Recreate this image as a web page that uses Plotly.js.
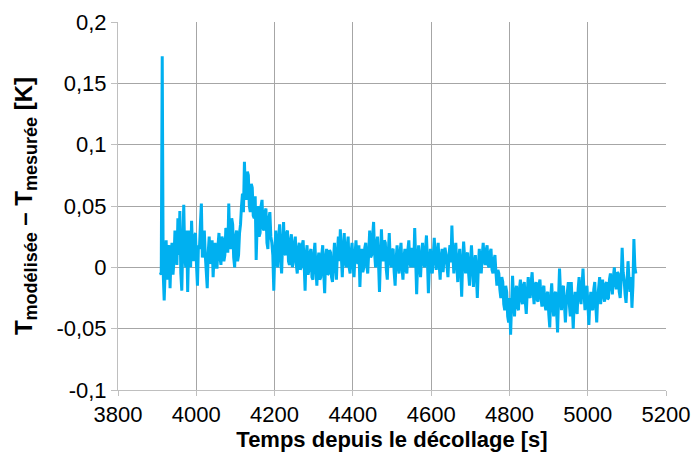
<!DOCTYPE html>
<html>
<head>
<meta charset="utf-8">
<script src="https://cdn.plot.ly/plotly-3.0.1.min.js"></script>
<style>html,body{margin:0;padding:0;background:#fff;}#chart{width:698px;height:462px;}</style>
</head>
<body>
<div id="chart"></div>
<script>
// Time axis of the series: first sample time and sampling step [s]
const startTime = 3908;
const sampleStep = 2.5;

// T_modélisée − T_mesurée [K]
const deltaT = [
  -0.004, -0.006, 0.172, -0.005, -0.027, 0.012, 0.022, -0.010, 0.015, 0.018,
  -0.017, 0.010, 0.020, -0.006, 0.005, 0.030, 0.025, 0.002, 0.040, 0.010,
  0.046, -0.005, -0.019, 0.020, 0.051, 0.010, 0.000, 0.030, -0.020, 0.015,
  0.030, 0.000, 0.038, 0.012, 0.005, 0.025, 0.028, 0.002, -0.015, 0.018,
  0.015, 0.035, 0.052, 0.008, 0.020, 0.030, 0.010, -0.005, -0.017, 0.012,
  0.025, 0.003, 0.005, 0.022, -0.008, 0.010, 0.020, 0.000, 0.000, 0.018,
  0.028, 0.008, 0.002, 0.025, 0.022, 0.005, 0.010, 0.032, 0.030, 0.012,
  0.052, 0.020, 0.015, 0.040, 0.035, 0.008, 0.000, 0.025, 0.030, 0.005,
  0.010, 0.028, 0.035, 0.050, 0.060, 0.045, 0.086, 0.060, 0.055, 0.078,
  0.075, 0.050, 0.045, 0.068, 0.065, 0.042, 0.040, 0.058, 0.006, 0.035,
  0.050, 0.025, 0.028, 0.050, 0.055, 0.032, 0.030, 0.045, 0.048, 0.020,
  0.015, 0.040, 0.045, 0.025, 0.020, 0.010, -0.019, 0.012, 0.030, 0.005,
  0.000, 0.025, 0.035, 0.008, -0.005, 0.020, 0.037, 0.012, 0.010, 0.028,
  0.030, 0.005, 0.002, 0.022, 0.027, 0.000, 0.005, 0.020, 0.025, 0.002,
  -0.005, 0.015, 0.020, -0.002, 0.000, 0.018, 0.022, 0.003, -0.019, 0.010,
  0.018, -0.006, -0.002, 0.012, 0.015, -0.008, -0.010, 0.010, 0.020, 0.000,
  -0.015, 0.005, 0.012, -0.010, -0.008, 0.010, 0.018, -0.004, -0.021, 0.008,
  0.015, -0.006, -0.005, 0.014, 0.012, -0.008, -0.012, 0.006, 0.020, 0.002,
  -0.010, 0.012, 0.025, 0.005, 0.031, 0.010, -0.008, 0.015, 0.028, 0.004,
  0.000, 0.018, 0.025, 0.000, -0.005, 0.012, 0.020, 0.002, -0.008, 0.010,
  0.022, 0.005, 0.003, 0.018, -0.016, 0.006, 0.015, -0.004, 0.000, 0.016,
  0.020, 0.002, -0.005, 0.012, 0.030, 0.008, 0.010, 0.025, 0.037, 0.012,
  0.000, 0.018, 0.025, 0.004, -0.020, 0.008, 0.031, 0.010, 0.005, 0.022,
  0.020, -0.002, -0.010, 0.012, 0.028, 0.006, 0.000, 0.014, 0.015, -0.004,
  -0.015, 0.006, 0.018, 0.002, -0.005, 0.012, 0.020, 0.000, -0.010, 0.008,
  0.015, -0.002, -0.005, 0.014, 0.022, 0.004, 0.000, 0.016, 0.012, 0.000,
  0.032, 0.006, -0.022, 0.004, 0.018, 0.002, -0.008, 0.010, 0.020, 0.004,
  0.000, 0.014, 0.026, 0.006, -0.021, 0.002, 0.015, 0.000, -0.005, 0.010,
  0.024, 0.008, -0.002, 0.012, 0.020, 0.002, -0.010, 0.008, 0.015, -0.004,
  0.005, 0.016, 0.010, -0.002, -0.008, 0.010, 0.018, 0.004, 0.034, 0.010,
  -0.005, 0.012, 0.020, 0.002, -0.012, 0.006, 0.015, -0.002, -0.024, 0.004,
  0.021, 0.008, -0.005, 0.010, 0.012, -0.004, -0.015, 0.004, 0.018, 0.002,
  -0.016, 0.002, 0.010, -0.006, -0.025, 0.000, 0.015, 0.004, -0.005, 0.010,
  0.020, 0.006, 0.002, 0.014, 0.018, 0.002, 0.000, 0.012, 0.015, -0.002,
  -0.005, 0.006, 0.010, -0.004, -0.015, -0.002, -0.005, -0.018, -0.025, -0.008,
  -0.012, -0.030, -0.035, -0.015, -0.020, -0.040, -0.045, -0.025, -0.055, -0.030,
  -0.007, -0.025, -0.040, -0.020, -0.015, -0.032, -0.035, -0.018, -0.010, -0.026,
  -0.030, -0.015, -0.012, -0.028, -0.038, -0.020, -0.008, -0.022, -0.025, -0.012,
  -0.004, -0.020, -0.030, -0.015, -0.012, -0.026, -0.028, -0.014, -0.010, -0.024,
  -0.032, -0.018, -0.015, -0.030, -0.035, -0.022, -0.020, -0.038, -0.049, -0.025,
  -0.013, -0.030, -0.040, -0.022, -0.020, -0.036, -0.053, -0.025, -0.001, -0.020,
  -0.035, -0.018, -0.015, -0.030, -0.045, -0.028, -0.020, -0.012, -0.030, -0.040,
  -0.012, -0.030, -0.050, -0.028, -0.020, -0.035, -0.038, -0.018, -0.008, -0.024,
  -0.030, -0.015, -0.001, -0.020, -0.035, -0.022, -0.015, -0.030, -0.047, -0.028,
  -0.020, -0.032, -0.035, -0.018, -0.012, -0.030, -0.045, -0.025, -0.018, -0.008,
  -0.030, -0.020, -0.010, -0.022, -0.028, -0.014, -0.012, -0.026, -0.025, -0.010,
  -0.005, -0.015, -0.022, -0.008, 0.000, -0.012, -0.018, -0.004, -0.005, -0.020,
  -0.025, -0.010, 0.016, -0.004, -0.010, -0.022, -0.029, -0.012, 0.005, -0.010,
  -0.020, -0.008, -0.033, -0.015, 0.023, 0.000, -0.005
];

// Axis ticks
const xTickVals = [3800, 4000, 4200, 4400, 4600, 4800, 5000, 5200];
const xTickLabels = ["3800", "4000", "4200", "4400", "4600", "4800", "5000", "5200"];
const yTickVals = [-0.1, -0.05, 0, 0.05, 0.1, 0.15, 0.2];
const yTickLabels = ["-0,1", "-0,05", "0", "0,05", "0,1", "0,15", "0,2"];

const xTitle = "Temps depuis le décollage [s]";
const big = "font-size:24px;font-weight:bold";
const small = "font-size:18px;font-weight:bold";
const yTitle = "<span style=\"" + big + "\">T</span><sub><span style=\"" + small + "\">modélisée</span></sub>" +
  "<span style=\"" + big + "\"> – T</span><sub><span style=\"" + small + "\">mesurée</span></sub>" +
  "<span style=\"" + big + "\"> [K]</span>";

const trace = {
  type: "scatter",
  mode: "lines",
  x0: startTime,
  dx: sampleStep,
  y: deltaT,
  line: {color: "#00B0F0", width: 3},
  hoverinfo: "skip"
};

const fontFam = "Liberation Sans, Arial, sans-serif";

const layout = {
  width: 698,
  height: 462,
  margin: {l: 118, r: 32, t: 22, b: 72},
  paper_bgcolor: "#ffffff",
  plot_bgcolor: "#ffffff",
  showlegend: false,
  font: {family: fontFam, color: "#000000"},
  xaxis: {
    range: [3800, 5200],
    tickvals: xTickVals,
    ticktext: xTickLabels,
    showgrid: true,
    gridcolor: "#a6a6a6",
    gridwidth: 1,
    zeroline: false,
    showline: true,
    linecolor: "#bfbfbf",
    linewidth: 1,
    ticks: "outside",
    ticklen: 5,
    tickcolor: "#bfbfbf",
    tickfont: {size: 22, family: fontFam, color: "#000"},
    title: {text: xTitle, font: {size: 22, family: fontFam, color: "#000", weight: "bold"}, standoff: 4}
  },
  yaxis: {
    range: [-0.1, 0.2],
    tickvals: yTickVals,
    ticktext: yTickLabels,
    showgrid: true,
    gridcolor: "#a6a6a6",
    gridwidth: 1,
    zeroline: false,
    showline: true,
    linecolor: "#bfbfbf",
    linewidth: 1,
    ticks: "outside",
    ticklen: 6,
    tickcolor: "#bfbfbf",
    tickfont: {size: 22, family: fontFam, color: "#000"},
    title: {text: yTitle, font: {size: 25, family: fontFam, color: "#000", weight: "bold"}, standoff: 16}
  }
};

Plotly.newPlot("chart", [trace], layout, {staticPlot: true, displayModeBar: false});
</script>
</body>
</html>
